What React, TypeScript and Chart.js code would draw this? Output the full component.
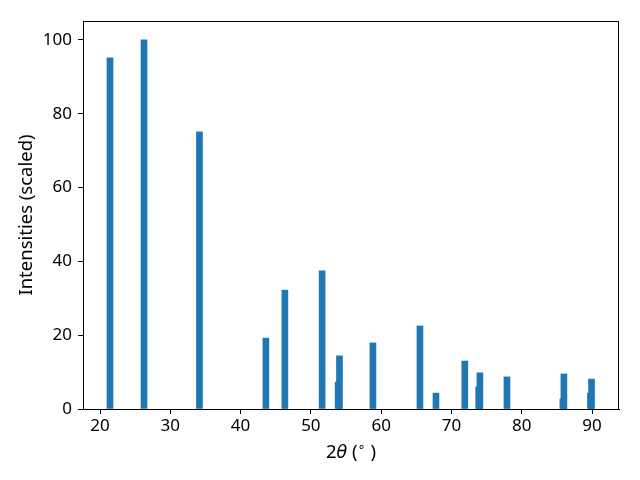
import React, { useEffect, useRef } from "react";
import { Chart, registerables } from "chart.js";

Chart.register(...registerables);

// 2θ peak positions (degrees) and scaled intensities
const twoTheta = [21.42, 26.26, 34.15, 43.6, 46.3, 51.6, 53.88, 54.07, 58.83, 65.52, 67.8, 71.9, 73.88, 74.05, 77.9, 85.86, 86.0, 89.78, 89.93];
const intensities = [95.1, 100, 75.1, 19.2, 32.2, 37.4, 7.3, 14.4, 17.9, 22.5, 4.3, 13.0, 6.0, 9.8, 8.7, 2.7, 9.5, 4.3, 8.1];
const xTicks = [20, 30, 40, 50, 60, 70, 80, 90];
const yTicks = [0, 20, 40, 60, 80, 100];
const yLabel = "Intensities (scaled)";

const FONT = "'Noto Sans', 'DejaVu Sans', sans-serif";
const FS = 17;
const LFS = 18.5;

const framePlugin = {
  id: "frame",
  afterDraw(chart: any) {
    const { ctx, chartArea } = chart;
    ctx.save();
    ctx.strokeStyle = "#000";
    ctx.lineWidth = 1;
    const l = Math.round(chartArea.left) + 0.5;
    const t = Math.round(chartArea.top) + 0.5;
    const r = Math.round(chartArea.right) - 0.5;
    const b = Math.round(chartArea.bottom) + 0.5;
    ctx.strokeRect(l, t, r - l, b - t);

    // y axis title
    ctx.fillStyle = "#000";
    ctx.font = `${LFS}px ${FONT}`;
    ctx.textAlign = "center";
    ctx.textBaseline = "middle";
    ctx.save();
    ctx.translate(27, (chartArea.top + chartArea.bottom) / 2);
    ctx.rotate(-Math.PI / 2);
    ctx.fillText(yLabel, 0, 0);
    ctx.restore();

    // x axis title: 2θ (°) with italic theta and superscript ring
    const parts = [
      { t: "2", f: `${LFS}px ${FONT}`, dy: 0 },
      { t: "θ", f: `italic ${LFS - 1}px 'DejaVu Sans', sans-serif`, dy: 0 },
      { t: " (", f: `${LFS}px ${FONT}`, dy: 0 },
      { t: "∘", f: `${Math.round(LFS * 0.7)}px 'DejaVu Sans', sans-serif`, dy: -7 },
      { t: " )", f: `${LFS}px ${FONT}`, dy: 0 },
    ];
    let total = 0;
    const widths = parts.map((p) => {
      ctx.font = p.f;
      const w = ctx.measureText(p.t).width;
      total += w;
      return w;
    });
    let x = (chartArea.left + chartArea.right) / 2 - total / 2;
    const y = 458;
    ctx.textAlign = "left";
    ctx.textBaseline = "alphabetic";
    parts.forEach((p, i) => {
      ctx.font = p.f;
      ctx.fillText(p.t, x, y + p.dy);
      x += widths[i];
    });
    ctx.restore();
  },
};

export default function App() {
  const ref = useRef<HTMLCanvasElement>(null);
  useEffect(() => {
    if (!ref.current) return;
    const chart = new Chart(ref.current, {
      type: "bar",
      data: {
        datasets: [
          {
            data: twoTheta.map((x, i) => ({ x, y: intensities[i] })),
            backgroundColor: "#1f77b4",
            borderWidth: 0,
            barThickness: 6,
            grouped: false,
          } as any,
        ],
      },
      options: {
        responsive: false,
        animation: false,
        layout: { padding: { top: 21, right: 21, left: 0, bottom: 0 } },
        plugins: { legend: { display: false }, tooltip: { enabled: false } },
        scales: {
          x: {
            type: "linear",
            min: 17.58,
            max: 93.84,
            offset: false,
            afterBuildTicks: (s: any) => {
              s.ticks = xTicks.map((v) => ({ value: v }));
            },
            afterFit: (s: any) => {
              s.height = 71;
            },
            grid: { display: true, offset: false, drawOnChartArea: false, drawTicks: true, tickLength: 5, color: "#000" },
            border: { display: true, color: "#000" },
            ticks: { color: "#000", font: { family: FONT, size: FS }, padding: 2, maxRotation: 0 },
            title: { display: false },
          },
          y: {
            type: "linear",
            min: 0,
            max: 105.1,
            afterBuildTicks: (s: any) => {
              s.ticks = yTicks.map((v) => ({ value: v }));
            },
            afterFit: (s: any) => {
              s.width = 83;
            },
            grid: { display: true, drawOnChartArea: false, drawTicks: true, tickLength: 5, color: "#000" },
            border: { display: true, color: "#000" },
            ticks: { color: "#000", font: { family: FONT, size: FS }, padding: 6 },
            title: { display: false },
          },
        },
      },
      plugins: [framePlugin],
    });
    return () => chart.destroy();
  }, []);
  return (
    <div style={{ position: "fixed", left: 0, top: 0, width: 640, height: 480, background: "#fff" }}>
      <canvas ref={ref} width={640} height={480} />
    </div>
  );
}
